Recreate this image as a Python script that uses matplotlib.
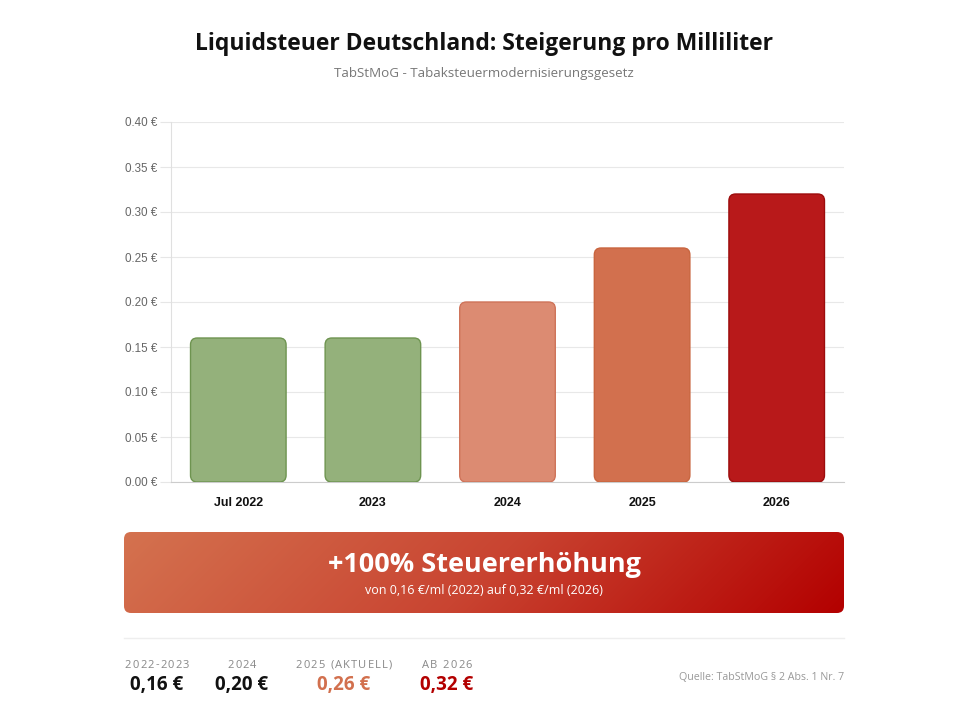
import matplotlib.pyplot as plt
import numpy as np
from matplotlib.patches import FancyBboxPatch
from matplotlib.colors import LinearSegmentedColormap

# Data
categories = ['Jul 2022', '2023', '2024', '2025', '2026']
tax_per_ml = [0.16, 0.16, 0.20, 0.26, 0.32]
bar_colors = ['#94b17b', '#94b17b', '#dc8b72', '#d2704e', '#b8191a']
edge_colors = ['#6e9450', '#6e9450', '#cf7359', '#c9653f', '#9c0c0c']

stat_labels = ['2022-2023', '2024', '2025 (AKTUELL)', 'AB 2026']
stat_values = ['0,16 €', '0,20 €', '0,26 €', '0,32 €']
stat_colors = ['#111111', '#111111', '#d2704e', '#b30000']

W, H = 968, 726
fig = plt.figure(figsize=(W / 100, H / 100), dpi=100)
fig.patch.set_facecolor('white')

UI = ['Open Sans', 'DejaVu Sans']
AX = ['Liberation Sans', 'DejaVu Sans']


def px(x, y):
    # pixel position (top-left origin) -> figure fraction
    return x / W, 1 - y / H


def spaced_text(cx, cy, s, spacing, **kw):
    # draw text centred at (cx, cy) pixels with extra letter spacing
    r = fig.canvas.get_renderer()
    widths = []
    for ch in s:
        t = fig.text(0, 0, ch.replace(' ', '\u00a0'), **kw)
        widths.append(t.get_window_extent(r).width if ch != ' ' else None)
        t.remove()
    space_w = fig.text(0, 0, 'a b', **kw)
    sw = space_w.get_window_extent(r).width
    space_w.remove()
    ab = fig.text(0, 0, 'ab', **kw)
    sw = sw - ab.get_window_extent(r).width
    ab.remove()
    widths = [w if w is not None else sw for w in widths]
    total = sum(widths) + spacing * (len(s) - 1)
    xpos = cx - total / 2
    for ch, w in zip(s, widths):
        if ch != ' ':
            fig.text(*px(xpos, cy), ch, ha='left', va='center', **kw)
        xpos += w + spacing


# Title and subtitle
fig.text(*px(484, 44), 'Liquidsteuer Deutschland: Steigerung pro Milliliter',
         ha='center', va='center', fontsize=16.5, fontweight='bold',
         family=UI, color='#111111')
fig.text(*px(484, 74), 'TabStMoG - Tabaksteuermodernisierungsgesetz',
         ha='center', va='center', fontsize=9.6, family=UI, color='#777777')

# Bar chart
ax = fig.add_axes([171 / W, 1 - 482 / H, 673 / W, 360 / H])
x = np.arange(len(categories))
ax.set_xlim(-0.5, len(categories) - 0.5)
ax.set_ylim(0, 0.40)

bw = 0.71
x_px_per_unit = 673 / 5
y_px_per_unit = 360 / 0.40
aspect = x_px_per_unit / y_px_per_unit
for xi, val, fc, ec in zip(x, tax_per_ml, bar_colors, edge_colors):
    ax.add_patch(FancyBboxPatch((xi - bw / 2, 0), bw, val,
                                boxstyle='round,pad=0,rounding_size=0.05',
                                mutation_aspect=aspect,
                                facecolor=fc, edgecolor=ec, linewidth=1.0,
                                zorder=3))

ax.set_yticks(np.arange(0, 0.41, 0.05))
ax.set_yticklabels([f'{v:.2f} €' for v in np.arange(0, 0.41, 0.05)],
                   family=AX, fontsize=8.4, color='#666666')
ax.set_xticks(x)
ax.set_xticklabels(categories, family=AX, fontsize=9, fontweight='bold',
                   color='#111111')
ax.tick_params(axis='y', length=8, color='#e6e6e6', pad=2)
ax.tick_params(axis='x', length=0, pad=11)
ax.grid(axis='y', color='#e8e8e8', linewidth=0.8, zorder=0)
ax.set_axisbelow(True)
for s in ['top', 'right']:
    ax.spines[s].set_visible(False)
ax.spines['left'].set_color('#e0e0e0')
ax.spines['bottom'].set_color('#cccccc')

# Gradient banner
bx0, by0, bw_px, bh_px = 124, 532, 720, 81
bax = fig.add_axes([bx0 / W, 1 - (by0 + bh_px) / H, bw_px / W, bh_px / H])
bax.set_xlim(0, bw_px)
bax.set_ylim(0, bh_px)
bax.axis('off')
cmap = LinearSegmentedColormap.from_list('banner', ['#d4724f', '#c94431', '#b30000'])
gx, gy = np.meshgrid(np.arange(bw_px), np.arange(bh_px))
grad = (gx + gy) / (bw_px + bh_px)
img = bax.imshow(grad, cmap=cmap, extent=[0, bw_px, 0, bh_px], origin='upper',
                 aspect='auto', interpolation='bilinear')
clip = FancyBboxPatch((0, 0), bw_px, bh_px, boxstyle='round,pad=0,rounding_size=7',
                      facecolor='none', edgecolor='none', transform=bax.transData)
bax.add_patch(clip)
img.set_clip_path(clip)
bax.text(bw_px / 2, bh_px - 33, '+100% Steuererhöhung', ha='center', va='center',
         fontsize=19.5, fontweight='bold', family=UI, color='white')
bax.text(bw_px / 2, bh_px - 59, 'von 0,16 €/ml (2022) auf 0,32 €/ml (2026)',
         ha='center', va='center', fontsize=9, family=UI, color='white')

# Separator
fig.add_artist(plt.Line2D([124 / W, 844 / W], [1 - 638 / H, 1 - 638 / H],
                          color='#eeeeee', linewidth=1))

# Stats row
stat_x = [157, 242, 344, 447]
for sx, lab, val, col in zip(stat_x, stat_labels, stat_values, stat_colors):
    spaced_text(sx, 665, lab, 1.2, fontsize=8, family=UI, color='#888888')
    fig.text(*px(sx, 685), val, ha='center', va='center', fontsize=13.5,
             fontweight='bold', family=UI, color=col)

fig.text(*px(844, 678), 'Quelle: TabStMoG § 2 Abs. 1 Nr. 7', ha='right',
         va='center', fontsize=7.7, family=UI, color='#999999')

fig.savefig('out.png', dpi=100, facecolor='white')
